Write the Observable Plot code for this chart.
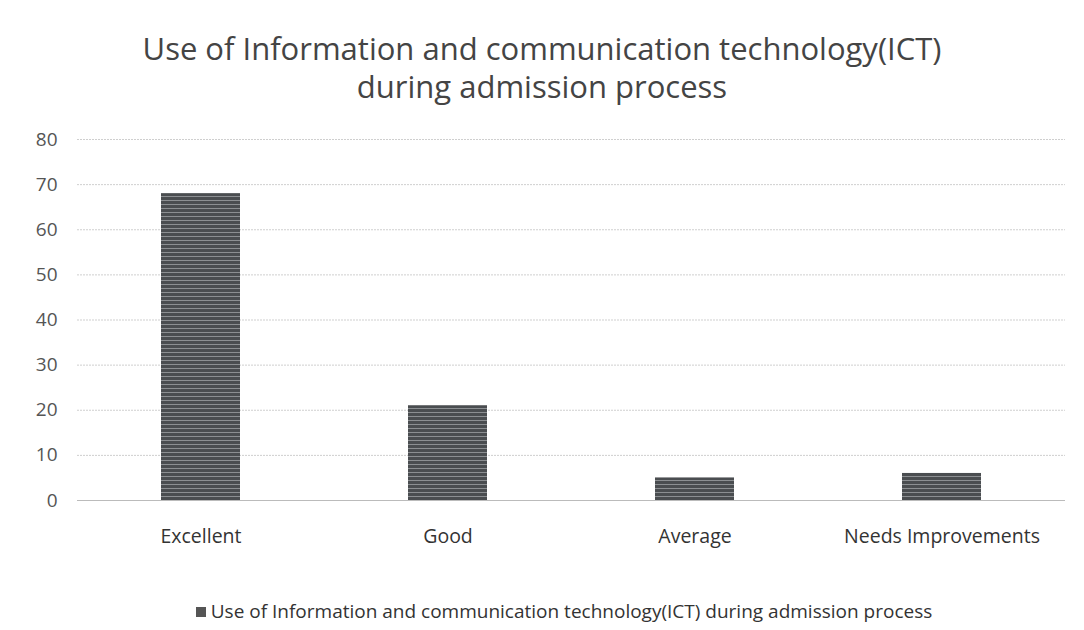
<!DOCTYPE html>
<html>
<head>
<meta charset="utf-8">
<script src="https://cdn.jsdelivr.net/npm/d3@7"></script>
<script src="https://cdn.jsdelivr.net/npm/@observablehq/plot@0.6"></script>
<style>
  html, body { margin: 0; padding: 0; background: #fff; }
  body { width: 1084px; height: 630px; position: relative; overflow: hidden; font-family: "Open Sans", sans-serif; }
  #title { position: absolute; left: 0; top: 29px; width: 1084px; text-align: center; font-size: 31px; line-height: 38px; color: #444; }
  #chart { position: absolute; left: 0; top: 120px; }
  #legend { position: absolute; left: 22px; top: 598px; width: 1084px; text-align: center; font-size: 19px; color: #333; }
  #legend .sw { display: inline-block; width: 10px; height: 10px; background: #555; margin-right: 5px; vertical-align: 1px; }
</style>
</head>
<body>
<div id="title">Use of Information and communication technology(ICT)<br>during admission process</div>
<div id="chart"></div>
<div id="legend"><span class="sw"></span>Use of Information and communication technology(ICT) during admission process</div>
<script>
const categories = ["Excellent", "Good", "Average", "Needs Improvements"];
const values = [68, 21, 5, 6];
const yTicks = [0, 10, 20, 30, 40, 50, 60, 70, 80];

const data = categories.map((c, i) => ({category: c, value: values[i]}));

const plot = Plot.plot({
  width: 1084,
  height: 440,
  marginTop: 19,
  marginBottom: 60,
  marginLeft: 77,
  marginRight: 19,
  style: {fontFamily: "Open Sans, sans-serif", fontSize: "16px", background: "#fff"},
  x: {domain: categories, paddingInner: 0.68, paddingOuter: 0.34, label: null},
  y: {domain: [0, 80], ticks: yTicks, label: null},
  marks: [
    Plot.gridY(yTicks, {stroke: "#cfcfcf", strokeOpacity: 1, strokeDasharray: "2,1"}),
    Plot.axisY({ticks: yTicks, tickSize: 0, tickPadding: 20, label: null, fill: "#555", fontSize: 19}),
    Plot.axisX({tickSize: 0, tickPadding: 29, label: null, fill: "#333", fontSize: 19.5}),
    Plot.barY(data, {x: "category", y: "value", fill: "url(#stripes)"}),
    Plot.ruleY([0], {stroke: "#bbb"})
  ]
});

const ns = "http://www.w3.org/2000/svg";
const defs = document.createElementNS(ns, "defs");
const pat = document.createElementNS(ns, "pattern");
pat.setAttribute("id", "stripes");
pat.setAttribute("patternUnits", "userSpaceOnUse");
pat.setAttribute("width", "6");
pat.setAttribute("height", "4");
const r1 = document.createElementNS(ns, "rect");
r1.setAttribute("width", "6"); r1.setAttribute("height", "4"); r1.setAttribute("fill", "#4a4d50");
const r2 = document.createElementNS(ns, "rect");
r2.setAttribute("width", "6"); r2.setAttribute("height", "1"); r2.setAttribute("fill", "#8c8f92");
pat.appendChild(r1); pat.appendChild(r2);
defs.appendChild(pat);
plot.insertBefore(defs, plot.firstChild);

document.getElementById("chart").appendChild(plot);
</script>
</body>
</html>
